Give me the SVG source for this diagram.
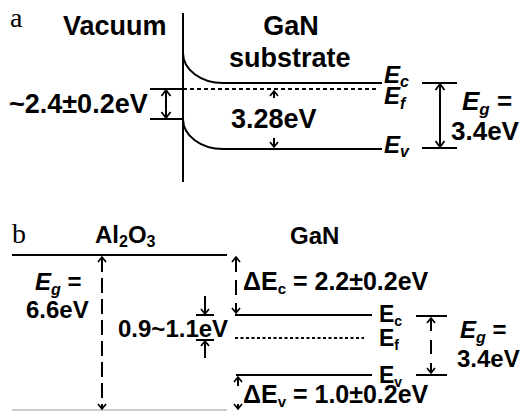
<svg xmlns="http://www.w3.org/2000/svg" width="524" height="411" viewBox="0 0 524 411">
<defs>
<marker id="chev" markerUnits="userSpaceOnUse" viewBox="-8 -6 10 12" markerWidth="10" markerHeight="12" refX="0" refY="0" orient="auto-start-reverse">
<path d="M-6,-4.5 L0,0 L-6,4.5" fill="none" stroke="#000" stroke-width="1.8"/>
</marker>
<marker id="chevs" markerUnits="userSpaceOnUse" viewBox="-8 -6 10 12" markerWidth="10" markerHeight="12" refX="0" refY="0" orient="auto-start-reverse">
<path d="M-5,-4 L0,0 L-5,4" fill="none" stroke="#000" stroke-width="1.7"/>
</marker>
</defs>
<style>
.ln{stroke:#000;stroke-width:2;fill:none}
.t{font-family:"Liberation Sans",Arial,sans-serif;font-weight:bold;fill:#000}
.a{font-size:27px}
.b{font-size:24px}
.lab{font-family:"Liberation Serif","Times New Roman",serif;font-size:28px;fill:#000}
.it{font-style:italic}
</style>

<g id="panel-a">
<text class="lab" x="10" y="27">a</text>
<g id="vacuum"><text class="t a" x="63" y="35">Vacuum</text></g>
<g id="gan-substrate">
<text class="t a" x="291" y="35" text-anchor="middle">GaN</text>
<text class="t a" x="229" y="67">substrate</text>
</g>
<g id="a-levels">
<line class="ln" x1="183" y1="13" x2="183" y2="182"/>
<path class="ln" d="M183,53 A40,30 0 0 0 223,83 L382,83"/>
<path class="ln" d="M183,119 A40,30 0 0 0 223,149 L382,149"/>
<line class="ln" x1="150" y1="89" x2="183" y2="89"/>
<line class="ln" x1="183" y1="89" x2="377" y2="89" stroke-dasharray="4 3"/>
<line class="ln" x1="150" y1="119" x2="183" y2="119"/>
<line class="ln" x1="422" y1="83" x2="457" y2="83"/>
<line class="ln" x1="422" y1="148" x2="457" y2="148"/>
</g>
<g id="a-labels">
<text class="t a" x="9" y="113">~2.4±0.2eV</text>
<text class="t a" x="231" y="128">3.28eV</text>
<text class="t it" font-size="24" x="384" y="83">E<tspan font-size="16" dy="4">c</tspan></text>
<text class="t it" font-size="24" x="384" y="104">E<tspan font-size="16" dy="5">f</tspan></text>
<text class="t it" font-size="24" x="384" y="153">E<tspan font-size="16" dy="4">v</tspan></text>
<text class="t it" font-size="26" x="462" y="110">E<tspan font-size="17" dy="5">g</tspan><tspan dy="-5" font-style="normal"> =</tspan></text>
<text class="t" font-size="26" x="451" y="140">3.4eV</text>
</g>
</g>

<g id="panel-b">
<text class="lab" x="12" y="243">b</text>
<g id="al2o3">
<text class="t b" x="95" y="243">Al<tspan font-size="16" dy="4">2</tspan><tspan dy="-4">O</tspan><tspan font-size="16" dy="4">3</tspan></text>
<line class="ln" x1="12" y1="255" x2="227" y2="255"/>
<line x1="12" y1="410" x2="227" y2="410" stroke="#bbb" stroke-width="1.5"/>
<text class="t b it" x="35" y="290">E<tspan font-size="16" dy="5">g</tspan><tspan dy="-5" font-style="normal"> =</tspan></text>
<text class="t b" x="26" y="318">6.6eV</text>
</g>
<g id="gan-b">
<text class="t b" x="290" y="244">GaN</text>
<line class="ln" x1="235" y1="315" x2="372" y2="315"/>
<line x1="235" y1="338" x2="364" y2="338" stroke="#000" stroke-width="1.8" stroke-dasharray="3 2.5"/>
<line class="ln" x1="236" y1="375" x2="372" y2="375"/>
<text class="t" font-size="23" x="379" y="322">E<tspan font-size="14" dy="4">c</tspan></text>
<text class="t" font-size="23" x="379" y="346">E<tspan font-size="14" dy="4">f</tspan></text>
<text class="t" font-size="23" x="379" y="383">E<tspan font-size="14" dy="4">v</tspan></text>
<line class="ln" x1="416" y1="316" x2="447" y2="316"/>
<line class="ln" x1="416" y1="375" x2="447" y2="375"/>
<text class="t b it" x="460" y="338">E<tspan font-size="16" dy="5">g</tspan><tspan dy="-5" font-style="normal"> =</tspan></text>
<text class="t b" x="457" y="367">3.4eV</text>
</g>
<g id="b-labels">
<text class="t b" x="118" y="337">0.9~1.1eV</text>
<text class="t" font-size="25" x="243" y="290">ΔE<tspan font-size="15" dy="4">c</tspan><tspan dy="-4"> = 2.2±0.2eV</tspan></text>
<text class="t" font-size="25" x="243" y="403">ΔE<tspan font-size="15" dy="4">v</tspan><tspan dy="-4"> = 1.0±0.2eV</tspan></text>
</g>
</g>

<g id="connectors">
<line class="ln" x1="166" y1="90" x2="166" y2="118" marker-start="url(#chev)" marker-end="url(#chev)"/>
<line class="ln" x1="274" y1="98" x2="274" y2="91" marker-end="url(#chevs)"/>
<line class="ln" x1="274" y1="138" x2="274" y2="147" marker-end="url(#chevs)"/>
<line class="ln" x1="440" y1="84" x2="440" y2="147" marker-start="url(#chev)" marker-end="url(#chev)"/>
<line class="ln" x1="102" y1="257" x2="102" y2="409" stroke-dasharray="15 6" marker-start="url(#chevs)" marker-end="url(#chevs)"/>
<line class="ln" x1="236" y1="257" x2="236" y2="313" stroke-dasharray="15 8" marker-start="url(#chevs)" marker-end="url(#chevs)"/>
<line class="ln" x1="205" y1="296" x2="205" y2="314" marker-end="url(#chevs)"/>
<line class="ln" x1="196" y1="315" x2="214" y2="315"/>
<line class="ln" x1="205" y1="358" x2="205" y2="341" marker-end="url(#chevs)"/>
<line class="ln" x1="196" y1="340" x2="214" y2="340"/>
<line class="ln" x1="431" y1="318" x2="431" y2="373" stroke-dasharray="13 9 14 9 20" marker-start="url(#chevs)" marker-end="url(#chevs)"/>
<line class="ln" x1="238" y1="386" x2="238" y2="377" marker-end="url(#chevs)"/>
<line class="ln" x1="238" y1="404" x2="238" y2="409" marker-end="url(#chevs)"/>
</g>
</svg>
